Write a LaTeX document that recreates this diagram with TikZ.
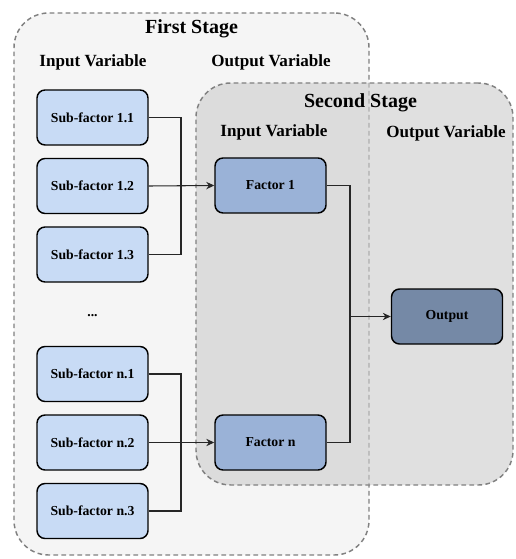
\documentclass[tikz,border=0pt]{standalone}
\usepackage{fontspec}
\setmainfont{Liberation Serif}
\usetikzlibrary{arrows.meta}
\definecolor{subblue}{HTML}{C8DBF5}
\definecolor{facblue}{HTML}{9AB2D7}
\definecolor{outblue}{HTML}{7589A6}
\definecolor{stagegray}{HTML}{F5F5F5}

\begin{document}
\begin{tikzpicture}[x=0.75pt,y=-0.75pt,>={Stealth[length=6pt,width=5.5pt]}]
  \useasboundingbox (0,0) rectangle (515,559);
  \bfseries
  \tikzstyle{stage}=[draw=black!50,line width=1.1pt,dash pattern=on 3.5pt off 2.5pt,
                     rounded corners=26pt,minimum width=266pt]
  \tikzstyle{head}=[font=\fontsize{15}{18}\selectfont\bfseries]
  \tikzstyle{var}=[font=\fontsize{12.8}{15}\selectfont\bfseries]
  \tikzstyle{box}=[draw,line width=1.1pt,rounded corners=6pt,minimum width=83.25pt,
                   minimum height=41.25pt,font=\fontsize{10.3}{12}\selectfont\bfseries]
  \tikzstyle{line}=[draw=black!85,line width=0.8pt]

%% stages
  \node[stage,fill=stagegray,minimum width=266.25pt,minimum height=406.5pt] (stage1) at (191.5,284) {};
  \node[stage,fill=black!20,fill opacity=0.6,minimum width=237.75pt,minimum height=301.5pt] (stage2) at (354.5,284) {};

  \node[head] (title1) at (191.5,29)  {First Stage};
  \node[var]  (in1)    at (93,62)     {Input Variable};
  \node[var]  (out1)   at (271,62)    {Output Variable};
  \node[head] (title2) at (360.5,103) {Second Stage};
  \node[var]  (in2)    at (274,132)   {Input Variable};
  \node[var]  (out2)   at (446,133)   {Output Variable};

%% input boxes
  \foreach \g/\y in {1/117.5, n/374}
    \foreach \k in {1,2,3}
      \node[box,fill=subblue] (s\g\k) at (92.5,{\y+68.5*(\k-1)}) {Sub-factor \g.\k};
  \node[font=\fontsize{10.3}{12}\selectfont\bfseries] (dots) at (92.5,316) {...};

  \node[box,fill=facblue] (f1)  at (270.5,185.5) {Factor 1};
  \node[box,fill=facblue] (fn)  at (270.5,442.5) {Factor n};
  \node[box,fill=outblue] (out) at (447,316.5)   {Output};

%% draw connections
  \coordinate (j1) at (181,185.5);
  \coordinate (jn) at (181,442.5);
  \coordinate (jo) at (350,316.5);
  \foreach \g/\f in {1/f1, n/fn} {
    \draw[line] (s\g1.east) -| (j\g) |- (s\g3.east);
    \draw[line,->] (s\g2.east) -- (\f.west);
  };
  \draw[line] (f1.east) -| (jo) |- (fn.east);
  \draw[line,->] (jo) -- (out.west);
\end{tikzpicture}
\end{document}
